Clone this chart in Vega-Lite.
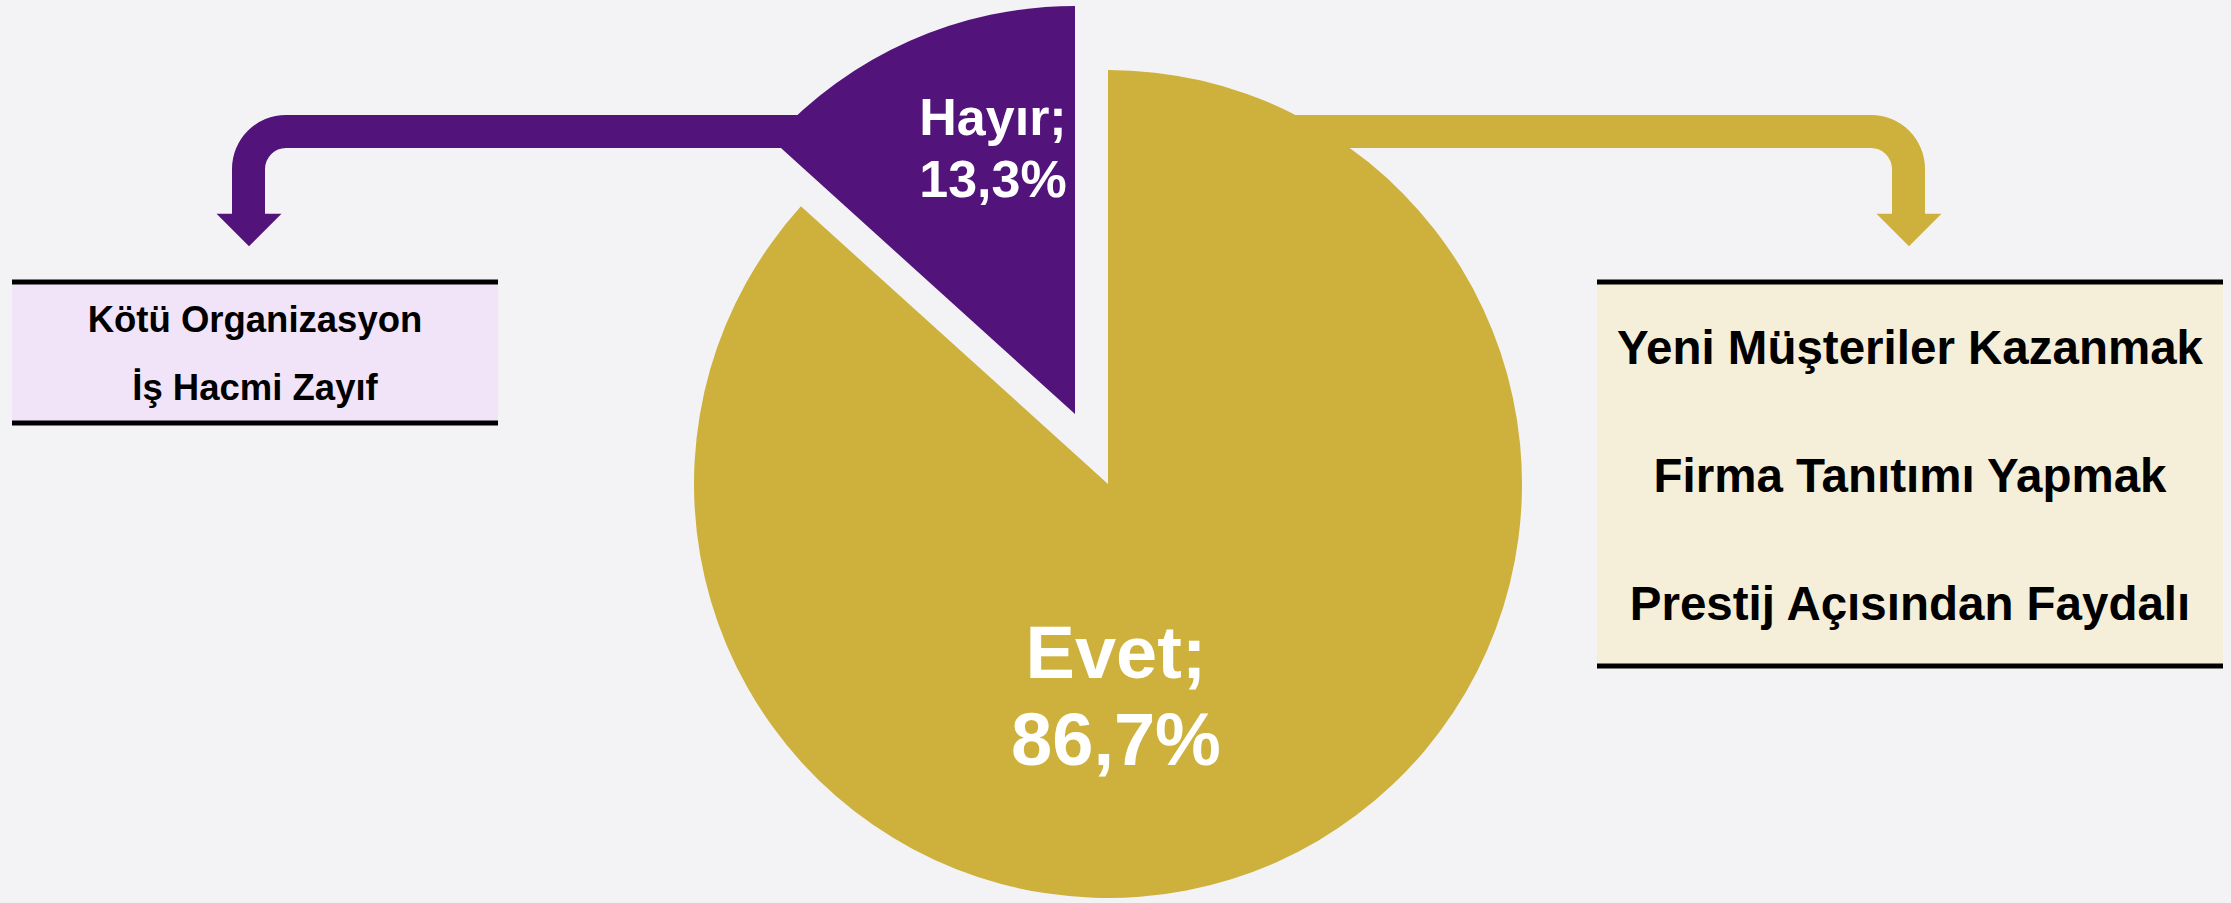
{
  "$schema": "https://vega.github.io/schema/vega-lite/v6.json",
  "width": 2231,
  "height": 903,
  "autosize": {"type": "fit", "contains": "padding"},
  "padding": 0,
  "background": "#f3f3f5",
  "config": {"view": {"stroke": null}, "font": "Liberation Sans"},
  "datasets": {
    "cevaplar": [
      {"cevap": "Evet", "yuzde": 86.7},
      {"cevap": "Hayır", "yuzde": 13.3}
    ],
    "nedenler": [
      {"cevap": "Hayır", "neden": "Kötü Organizasyon"},
      {"cevap": "Hayır", "neden": "İş Hacmi Zayıf"},
      {"cevap": "Evet", "neden": "Yeni Müşteriler Kazanmak"},
      {"cevap": "Evet", "neden": "Firma Tanıtımı Yapmak"},
      {"cevap": "Evet", "neden": "Prestij Açısından Faydalı"}
    ],
    "sahne": [{}]
  },
  "layer": [
    {
      "data": {"name": "sahne"},
      "mark": {"type": "rect", "color": "#F1E4F9"},
      "encoding": {
        "x": {"datum": 12, "type": "quantitative", "scale": {"type": "linear", "domain": [0, 2231], "nice": false, "zero": false}, "axis": null},
        "x2": {"datum": 498},
        "y": {"datum": 282, "type": "quantitative", "scale": {"type": "linear", "domain": [0, 903], "nice": false, "zero": false, "reverse": true}, "axis": null},
        "y2": {"datum": 423}
      }
    },
    {
      "data": {"name": "sahne"},
      "mark": {"type": "rect", "color": "#F5EFD9"},
      "encoding": {
        "x": {"datum": 1597, "type": "quantitative", "axis": null},
        "x2": {"datum": 2223},
        "y": {"datum": 282, "type": "quantitative", "axis": null},
        "y2": {"datum": 666}
      }
    },
    {
      "data": {"name": "sahne"},
      "mark": {"type": "rule", "color": "#000000", "strokeWidth": 5},
      "encoding": {
        "x": {"datum": 12, "type": "quantitative", "axis": null},
        "x2": {"datum": 498},
        "y": {"datum": 282, "type": "quantitative", "axis": null}
      }
    },
    {
      "data": {"name": "sahne"},
      "mark": {"type": "rule", "color": "#000000", "strokeWidth": 5},
      "encoding": {
        "x": {"datum": 12, "type": "quantitative", "axis": null},
        "x2": {"datum": 498},
        "y": {"datum": 423, "type": "quantitative", "axis": null}
      }
    },
    {
      "data": {"name": "sahne"},
      "mark": {"type": "rule", "color": "#000000", "strokeWidth": 5},
      "encoding": {
        "x": {"datum": 1597, "type": "quantitative", "axis": null},
        "x2": {"datum": 2223},
        "y": {"datum": 282, "type": "quantitative", "axis": null}
      }
    },
    {
      "data": {"name": "sahne"},
      "mark": {"type": "rule", "color": "#000000", "strokeWidth": 5},
      "encoding": {
        "x": {"datum": 1597, "type": "quantitative", "axis": null},
        "x2": {"datum": 2223},
        "y": {"datum": 666, "type": "quantitative", "axis": null}
      }
    },
    {
      "data": {"name": "sahne"},
      "mark": {"type": "rect", "color": "#CDB13C"},
      "encoding": {
        "x": {"datum": 1150, "type": "quantitative", "axis": null},
        "x2": {"datum": 1872},
        "y": {"datum": 115, "type": "quantitative", "axis": null},
        "y2": {"datum": 148}
      }
    },
    {
      "data": {"name": "sahne"},
      "mark": {"type": "arc", "color": "#CDB13C", "theta": 0, "theta2": 1.5708, "innerRadius": 21, "outerRadius": 54},
      "encoding": {
        "x": {"datum": 1871, "type": "quantitative", "axis": null},
        "y": {"datum": 169, "type": "quantitative", "axis": null}
      }
    },
    {
      "data": {"name": "sahne"},
      "mark": {"type": "rect", "color": "#CDB13C"},
      "encoding": {
        "x": {"datum": 1892, "type": "quantitative", "axis": null},
        "x2": {"datum": 1925},
        "y": {"datum": 168, "type": "quantitative", "axis": null},
        "y2": {"datum": 215}
      }
    },
    {
      "data": {"name": "sahne"},
      "mark": {"type": "point", "shape": "M-1,-0.5L1,-0.5L0,0.5Z", "size": 4225, "filled": true, "opacity": 1, "strokeWidth": 0, "color": "#CDB13C"},
      "encoding": {
        "x": {"datum": 1909, "type": "quantitative", "axis": null},
        "y": {"datum": 230, "type": "quantitative", "axis": null}
      }
    },
    {
      "data": {"name": "sahne"},
      "mark": {"type": "rect", "color": "#52137A"},
      "encoding": {
        "x": {"datum": 285, "type": "quantitative", "axis": null},
        "x2": {"datum": 900},
        "y": {"datum": 115, "type": "quantitative", "axis": null},
        "y2": {"datum": 148}
      }
    },
    {
      "data": {"name": "sahne"},
      "mark": {"type": "arc", "color": "#52137A", "theta": 4.71239, "theta2": 6.28319, "innerRadius": 21, "outerRadius": 54},
      "encoding": {
        "x": {"datum": 286, "type": "quantitative", "axis": null},
        "y": {"datum": 169, "type": "quantitative", "axis": null}
      }
    },
    {
      "data": {"name": "sahne"},
      "mark": {"type": "rect", "color": "#52137A"},
      "encoding": {
        "x": {"datum": 232, "type": "quantitative", "axis": null},
        "x2": {"datum": 265},
        "y": {"datum": 168, "type": "quantitative", "axis": null},
        "y2": {"datum": 215}
      }
    },
    {
      "data": {"name": "sahne"},
      "mark": {"type": "point", "shape": "M-1,-0.5L1,-0.5L0,0.5Z", "size": 4225, "filled": true, "opacity": 1, "strokeWidth": 0, "color": "#52137A"},
      "encoding": {
        "x": {"datum": 249, "type": "quantitative", "axis": null},
        "y": {"datum": 230, "type": "quantitative", "axis": null}
      }
    },
    {
      "data": {"name": "cevaplar"},
      "transform": [
        {"stack": "yuzde", "groupby": [], "sort": [{"field": "cevap", "order": "ascending"}], "as": ["t0", "t1"]},
        {"filter": "datum.cevap === 'Evet'"}
      ],
      "mark": {"type": "arc", "outerRadius": 414},
      "encoding": {
        "x": {"datum": 1108, "type": "quantitative", "axis": null},
        "y": {"datum": 484, "type": "quantitative", "axis": null},
        "theta": {"field": "t0", "type": "quantitative", "scale": {"domain": [0, 100], "range": [0, 6.283185307179586]}},
        "theta2": {"field": "t1"},
        "color": {"field": "cevap", "type": "nominal", "scale": {"domain": ["Evet", "Hayır"], "range": ["#CDB13C", "#52137A"]}, "legend": null}
      }
    },
    {
      "data": {"name": "cevaplar"},
      "transform": [
        {"stack": "yuzde", "groupby": [], "sort": [{"field": "cevap", "order": "ascending"}], "as": ["t0", "t1"]},
        {"filter": "datum.cevap === 'Hayır'"}
      ],
      "mark": {"type": "arc", "outerRadius": 408},
      "encoding": {
        "x": {"datum": 1075, "type": "quantitative", "axis": null},
        "y": {"datum": 414, "type": "quantitative", "axis": null},
        "theta": {"field": "t0", "type": "quantitative"},
        "theta2": {"field": "t1"},
        "color": {"field": "cevap", "type": "nominal", "legend": null}
      }
    },
    {
      "data": {"name": "cevaplar"},
      "transform": [
        {"filter": "datum.cevap === 'Hayır'"},
        {"calculate": "datum.cevap + ';|' + replace(format(datum.yuzde, '.1f'), '.', ',') + '%'", "as": "etiket"}
      ],
      "mark": {"type": "text", "lineBreak": "|", "fontSize": 52, "fontWeight": "bold", "color": "#FFFFFF", "align": "center", "baseline": "alphabetic", "lineHeight": 62},
      "encoding": {
        "x": {"datum": 993, "type": "quantitative", "axis": null},
        "y": {"datum": 135, "type": "quantitative", "axis": null},
        "text": {"field": "etiket", "type": "nominal"}
      }
    },
    {
      "data": {"name": "cevaplar"},
      "transform": [
        {"filter": "datum.cevap === 'Evet'"},
        {"calculate": "datum.cevap + ';|' + replace(format(datum.yuzde, '.1f'), '.', ',') + '%'", "as": "etiket"}
      ],
      "mark": {"type": "text", "lineBreak": "|", "fontSize": 74, "fontWeight": "bold", "color": "#FFFFFF", "align": "center", "baseline": "alphabetic", "lineHeight": 87},
      "encoding": {
        "x": {"datum": 1116, "type": "quantitative", "axis": null},
        "y": {"datum": 678, "type": "quantitative", "axis": null},
        "text": {"field": "etiket", "type": "nominal"}
      }
    },
    {
      "data": {"name": "nedenler"},
      "transform": [
        {"filter": "datum.cevap === 'Hayır'"},
        {"aggregate": [{"op": "values", "as": "satirlar"}], "groupby": ["cevap"]},
        {"calculate": "join(pluck(datum.satirlar, 'neden'), '|')", "as": "metin"}
      ],
      "mark": {"type": "text", "lineBreak": "|", "fontSize": 36.5, "fontWeight": "bold", "color": "#000000", "align": "center", "baseline": "alphabetic", "lineHeight": 68},
      "encoding": {
        "x": {"datum": 255, "type": "quantitative", "axis": null},
        "y": {"datum": 332, "type": "quantitative", "axis": null},
        "text": {"field": "metin", "type": "nominal"}
      }
    },
    {
      "data": {"name": "nedenler"},
      "transform": [
        {"filter": "datum.cevap === 'Evet'"},
        {"aggregate": [{"op": "values", "as": "satirlar"}], "groupby": ["cevap"]},
        {"calculate": "join(pluck(datum.satirlar, 'neden'), '|')", "as": "metin"}
      ],
      "mark": {"type": "text", "lineBreak": "|", "fontSize": 47.5, "fontWeight": "bold", "color": "#000000", "align": "center", "baseline": "alphabetic", "lineHeight": 128},
      "encoding": {
        "x": {"datum": 1910, "type": "quantitative", "axis": null},
        "y": {"datum": 364, "type": "quantitative", "axis": null},
        "text": {"field": "metin", "type": "nominal"}
      }
    }
  ]
}
